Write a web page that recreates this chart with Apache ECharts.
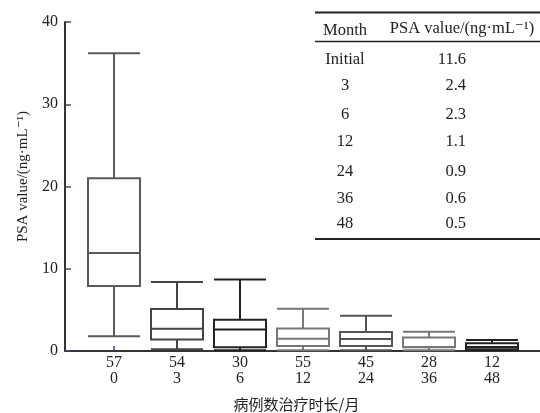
<!DOCTYPE html>
<html>
<head>
<meta charset="utf-8">
<script src="https://cdn.jsdelivr.net/npm/echarts@6/dist/echarts.min.js"></script>
<style>html,body{margin:0;padding:0;background:#fff;}#c{width:540px;height:413px;}</style>
</head>
<body>
<div id="c"></div>
<script>
// Case counts and treatment durations (months)
const caseCounts = ['57', '54', '30', '55', '45', '28', '12'];
const months = ['0', '3', '6', '12', '24', '36', '48'];
// Boxplot values: [min, Q1, median, Q3, max]
const boxInitial = [1.8, 7.9, 11.9, 21.0, 36.2];
const box3m  = [0.2, 1.4, 2.7, 5.1, 8.4];
const box6m  = [0.1, 0.45, 2.6, 3.8, 8.7];
const box12m = [0.1, 0.6, 1.5, 2.75, 5.15];
const box24m = [0.1, 0.6, 1.45, 2.3, 4.3];
const box36m = [0.1, 0.45, 0.5, 1.65, 2.35];
const box48m = [0.1, 0.2, 0.5, 0.95, 1.35];
const boxColors = ['#5a5a5a', '#444444', '#222222', '#777777', '#555555', '#777777', '#222222'];
const yTicks = [0, 10, 20, 30, 40];
// Inset table
const tableHeader = ['Month', 'PSA value/(ng·mL⁻¹)'];
const tableMonths = ['Initial', '3', '6', '12', '24', '36', '48'];
const tableValues = ['11.6', '2.4', '2.3', '1.1', '0.9', '0.6', '0.5'];

const boxes = [boxInitial, box3m, box6m, box12m, box24m, box36m, box48m];
const categories = caseCounts.map((c, i) => c + '\n' + months[i]);
const serif = 'Liberation Serif, DejaVu Serif, serif';

const chart = echarts.init(document.getElementById('c'), null, {renderer: 'canvas'});

const rowY = [60, 86, 115, 142, 172, 199, 224];
const tf = '16.5px ' + serif;
const graphics = [
  {type: 'line', shape: {x1: 315, y1: 12.5, x2: 540, y2: 12.5}, style: {stroke: '#222', lineWidth: 2}},
  {type: 'line', shape: {x1: 315, y1: 41.5, x2: 540, y2: 41.5}, style: {stroke: '#222', lineWidth: 1.6}},
  {type: 'line', shape: {x1: 315, y1: 239, x2: 540, y2: 239}, style: {stroke: '#222', lineWidth: 2}},
  {type: 'text', x: 345, y: 31, style: {text: tableHeader[0], font: tf, fill: '#222', textAlign: 'center', textVerticalAlign: 'middle'}},
  {type: 'text', x: 462, y: 29, style: {text: tableHeader[1], font: tf, fill: '#222', textAlign: 'center', textVerticalAlign: 'middle'}}
];
tableMonths.forEach((m, i) => {
  graphics.push({type: 'text', x: 345, y: rowY[i], style: {text: m, font: tf, fill: '#222', textAlign: 'center', textVerticalAlign: 'middle'}});
  graphics.push({type: 'text', x: 466, y: rowY[i], style: {text: tableValues[i], font: tf, fill: '#222', textAlign: 'right', textVerticalAlign: 'middle'}});
});

chart.setOption({
  animation: false,
  backgroundColor: '#fff',
  grid: [
    {left: 65, right: 0, top: 22, bottom: 62, containLabel: false, outerBoundsMode: 'none'},
    {left: 82.5, width: 441, top: 22, bottom: 62, containLabel: false, outerBoundsMode: 'none'}
  ],
  xAxis: [
    {
      gridIndex: 0, type: 'value', min: 0, max: 1,
      axisLine: {show: true, lineStyle: {color: '#333', width: 2}},
      axisTick: {show: false}, axisLabel: {show: false}, splitLine: {show: false},
      name: '病例数治疗时长/月', nameLocation: 'middle', nameGap: 46,
      nameTextStyle: {fontFamily: 'Noto Sans CJK SC', fontSize: 15, color: '#222', padding: [0, 12, 0, 0]}
    },
    {
      gridIndex: 1, type: 'category', data: categories, boundaryGap: true,
      axisLine: {show: false},
      axisTick: {show: true, inside: true, alignWithLabel: true, length: 5, lineStyle: {color: '#3a4a66', width: 1.5}},
      axisLabel: {fontFamily: serif, fontSize: 16, color: '#222', lineHeight: 16, margin: 4, interval: 0},
      splitLine: {show: false}
    }
  ],
  yAxis: [
    {
      gridIndex: 0, type: 'value', min: yTicks[0], max: yTicks[yTicks.length - 1], interval: 10,
      axisLine: {show: true, lineStyle: {color: '#333', width: 2}},
      axisTick: {show: true, inside: true, length: 6, lineStyle: {color: '#3a4a66', width: 1.5}},
      axisLabel: {fontFamily: serif, fontSize: 16, color: '#222', margin: 7},
      splitLine: {show: false},
      name: 'PSA value/(ng·mL⁻¹)', nameLocation: 'middle', nameGap: 34, nameRotate: 90,
      nameTextStyle: {fontFamily: serif, fontSize: 15, color: '#222', padding: [0, 0, 0, 20]}
    },
    {
      gridIndex: 1, type: 'value', min: 0, max: 40, show: false
    }
  ],
  series: [{
    type: 'boxplot', xAxisIndex: 1, yAxisIndex: 1,
    boxWidth: [52, 52],
    data: boxes.map((b, i) => ({
      value: b,
      itemStyle: {color: '#fff', borderColor: boxColors[i], borderWidth: 2}
    }))
  }],
  graphic: graphics
});
</script>
</body>
</html>
